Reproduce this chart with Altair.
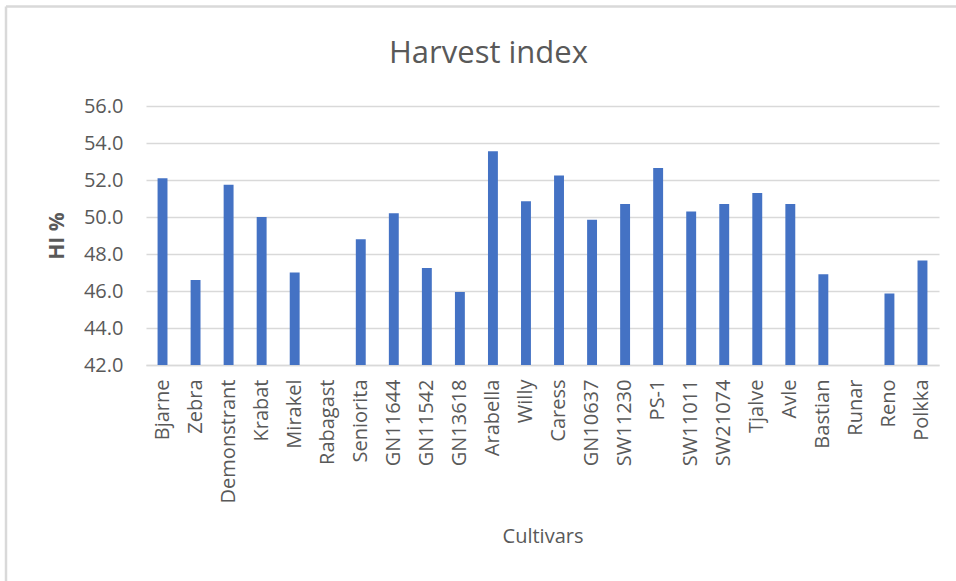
import altair as alt
import pandas as pd

# Harvest index per cultivar (HI %); two cultivars have no value
cultivars = [
    "Bjarne", "Zebra", "Demonstrant", "Krabat", "Mirakel", "Rabagast",
    "Seniorita", "GN11644", "GN11542", "GN13618", "Arabella", "Willy",
    "Caress", "GN10637", "SW11230", "PS-1", "SW11011", "SW21074",
    "Tjalve", "Avle", "Bastian", "Runar", "Reno", "Polkka",
]
hi_values = [
    52.1, 46.6, 51.75, 50.0, 47.0, None,
    48.8, 50.2, 47.25, 45.95, 53.55, 50.85,
    52.25, 49.85, 50.7, 52.65, 50.3, 50.7,
    51.3, 50.7, 46.9, None, 45.87, 47.65,
]
y_ticks = [42, 44, 46, 48, 50, 52, 54, 56]

df = pd.DataFrame({"Cultivar": cultivars, "HI": hi_values})
frame_df = pd.DataFrame({"k": [0]})

FONT = "Open Sans"
TEXT = "#595959"
GRID = "#d9d9d9"

W, H = 793, 259
LEFT, TOP = 146, 106

bars = alt.Chart(df).mark_bar(color="#4472C4", clip=True).encode(
    x=alt.X(
        "Cultivar:N",
        sort=cultivars,
        scale=alt.Scale(domain=cultivars, paddingInner=0.7, paddingOuter=0.35),
        axis=alt.Axis(
            title="Cultivars",
            labelAngle=-90,
            labelFontSize=20,
            labelColor=TEXT,
            labelFont=FONT,
            labelPadding=14,
            ticks=False,
            domainColor=GRID,
            domainWidth=1.5,
            titleFont=FONT,
            titleFontSize=20,
            titleFontWeight="normal",
            titleColor=TEXT,
            titlePadding=24,
        ),
    ),
    y=alt.Y(
        "HI:Q",
        scale=alt.Scale(domain=[42, 56], nice=False, zero=False),
        axis=alt.Axis(
            title="HI %",
            values=y_ticks,
            format=".1f",
            labelFontSize=20,
            labelColor=TEXT,
            labelFont=FONT,
            labelPadding=23,
            ticks=False,
            domain=False,
            gridColor=GRID,
            gridWidth=1.5,
            titleFont=FONT,
            titleFontSize=21,
            titleFontWeight="bold",
            titleColor=TEXT,
            titlePadding=16,
        ),
    ),
)

# light frame along the top and left of the chart area
frame_top = alt.Chart(frame_df).mark_rule(color=GRID, strokeWidth=2.5, clip=False).encode(
    x=alt.value(6 - LEFT), x2=alt.value(956 - LEFT), y=alt.value(6.5 - TOP)
)
frame_left = alt.Chart(frame_df).mark_rule(color=GRID, strokeWidth=2.5, clip=False).encode(
    x=alt.value(6 - LEFT), y=alt.value(6.5 - TOP), y2=alt.value(581 - TOP)
)

chart = (
    alt.layer(bars, frame_top, frame_left)
    .properties(
        width=W,
        height=H,
        title=alt.TitleParams(
            "Harvest index",
            font=FONT,
            fontSize=31,
            fontWeight="normal",
            color=TEXT,
            anchor="middle",
            baseline="alphabetic",
            dx=-54,
            dy=89,
            offset=0,
        ),
        autosize=alt.AutoSizeParams(type="none"),
        padding={"left": LEFT, "top": TOP, "right": 956 - LEFT - W, "bottom": 581 - TOP - H},
    )
    .configure(background="white")
    .configure_view(stroke=None)
)

chart.save("out.html", embed_options={"renderer": "svg", "actions": False})
